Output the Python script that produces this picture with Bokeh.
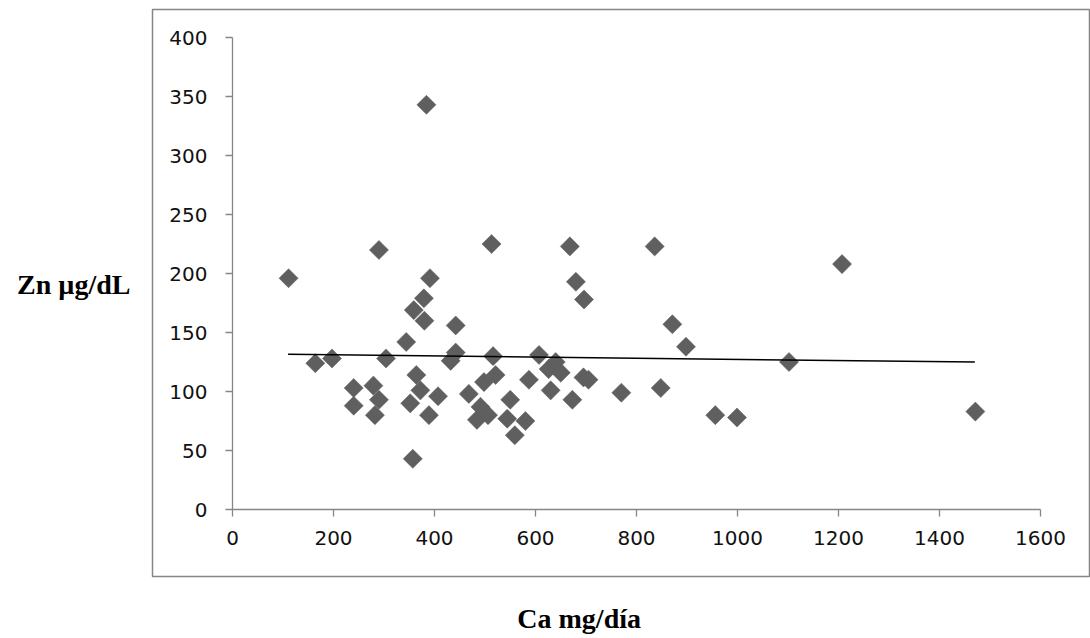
import math
from bokeh.plotting import figure
from bokeh.models import (Range1d, FixedTicker, ColumnDataSource, Label, BoxAnnotation)
from bokeh.embed import file_html
from bokeh.resources import INLINE

# ---- data ----
ca = [111, 164, 197, 240, 240, 279, 282, 290, 290, 304,
      344, 352, 357, 359, 364, 372, 379, 380, 384, 389,
      391, 407, 432, 442, 442, 468, 484, 491, 498, 506,
      513, 516, 521, 544, 550, 559, 580, 587, 607, 626,
      630, 640, 650, 668, 673, 680, 696, 695, 705, 770,
      836, 848, 871, 898, 956, 999, 1102, 1207, 1471]
zn = [196, 124, 128, 103, 88, 105, 80, 93, 220, 128,
      142, 90, 43, 169, 114, 101, 179, 160, 343, 80,
      196, 96, 126, 133, 156, 98, 76, 87, 108, 80,
      225, 130, 114, 77, 93, 63, 75, 110, 131, 119,
      101, 125, 116, 223, 93, 193, 178, 112, 110, 99,
      223, 103, 157, 138, 80, 78, 125, 208, 83]
trend_ca = [110, 1470]
trend_zn = [131.5, 125.0]
x_ticks = [0, 200, 400, 600, 800, 1000, 1200, 1400, 1600]
y_ticks = [0, 50, 100, 150, 200, 250, 300, 350, 400]
x_title = "Ca mg/día"
y_title = "Zn µg/dL"

AXIS = "#868686"
MARK = "#5f5f5f"
TICKFONT = "DejaVu Sans"
TITLEFONT = "Liberation Serif"

# the frame covers the whole canvas; axes sit inside it at 0
p = figure(width=1090, height=638, output_backend="svg", toolbar_location=None,
           x_range=Range1d(-459.4, 1699), y_range=Range1d(-109.3, 431.4),
           min_border_left=0, min_border_right=0,
           min_border_top=0, min_border_bottom=0)
p.outline_line_color = None
p.background_fill_color = "white"
p.border_fill_color = "white"
p.xgrid.visible = False
p.ygrid.visible = False

for ax, ticks, bnd in ((p.xaxis, x_ticks, (0, 1600)), (p.yaxis, y_ticks, (0, 400))):
    ax.ticker = FixedTicker(ticks=ticks)
    ax.fixed_location = 0
    ax.bounds = bnd
    ax.axis_line_color = AXIS
    ax.axis_line_width = 1.3
    ax.major_tick_line_color = AXIS
    ax.major_tick_line_width = 1.3
    ax.major_tick_out = 7
    ax.major_tick_in = 0
    ax.minor_tick_line_color = None
    ax.major_label_text_font = TICKFONT
    ax.major_label_text_font_size = "20px"
    ax.major_label_text_color = "#111111"
p.xaxis.major_label_standoff = 14
p.yaxis.major_label_standoff = 18

# chart-area border
p.add_layout(BoxAnnotation(left=-158.4, right=1697, top=423.7, bottom=-56.8,
                           fill_color=None, fill_alpha=0, line_color=AXIS,
                           line_alpha=1.0, line_width=1.5, level="underlay"))

src = ColumnDataSource(dict(ca=ca, zn=zn))
p.scatter("ca", "zn", source=src, marker="square", size=13.5, angle=math.pi / 4,
          fill_color=MARK, line_color=MARK, line_width=0.5)
p.line(trend_ca, trend_zn, line_color="black", line_width=1.5)

p.add_layout(Label(x=-202, y=190.7, text=y_title, text_align="right",
                   text_baseline="middle", text_font=TITLEFONT,
                   text_font_style="bold", text_font_size="28px", text_color="black"))
p.add_layout(Label(x=564, y=-92.1, text=x_title, text_align="left",
                   text_baseline="middle", text_font=TITLEFONT,
                   text_font_style="bold", text_font_size="28px", text_color="black"))

open("out.html", "w").write(file_html(p, INLINE))
